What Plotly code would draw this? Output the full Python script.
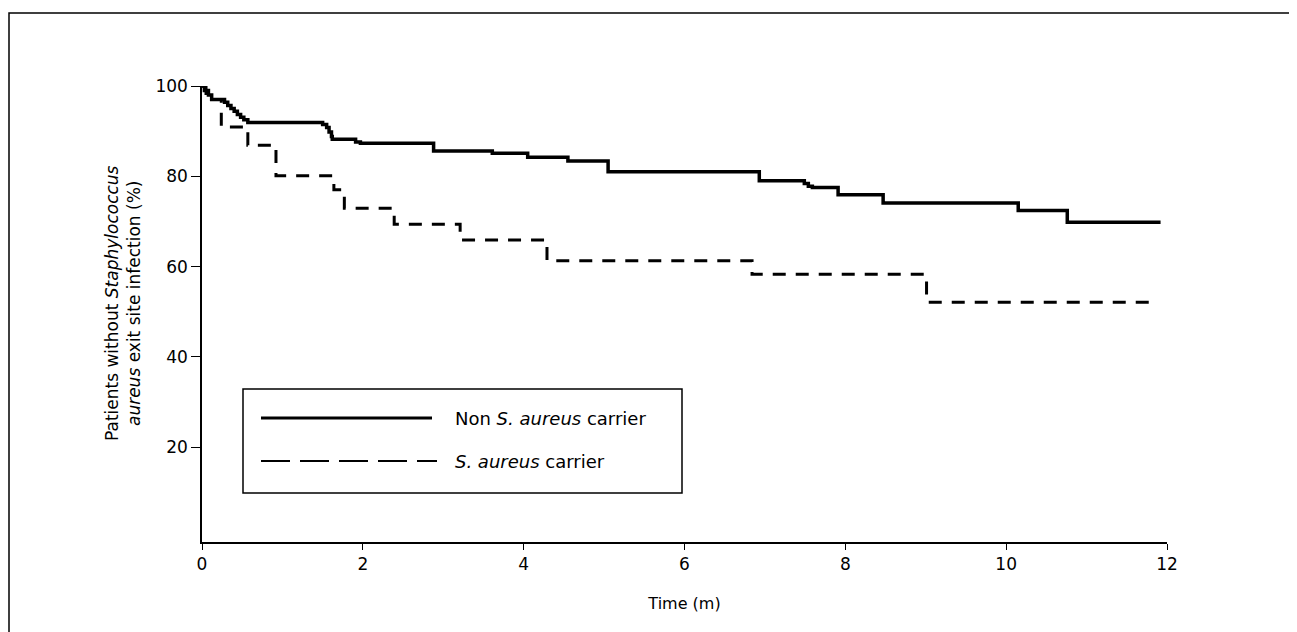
import plotly.graph_objects as go

# ---- data (Kaplan-Meier style step curves) ----
non_carrier_t = [0, 0.03, 0.08, 0.12, 0.28, 0.32, 0.36, 0.40, 0.44, 0.48, 0.52, 0.57,
                 1.50, 1.55, 1.58, 1.61, 1.62, 1.91, 1.97, 2.88, 3.61, 4.05, 4.55,
                 5.05, 6.93, 7.49, 7.54, 7.59, 7.91, 8.47, 10.15, 10.76, 11.92]
non_carrier_s = [100, 99, 98, 97, 96.4, 95.7, 95.0, 94.4, 93.7, 93.1, 92.5, 91.9,
                 91.5, 90.8, 89.8, 88.8, 88.2, 87.6, 87.3, 85.6, 85.1, 84.2, 83.4,
                 81.0, 79.0, 78.4, 77.8, 77.5, 75.9, 74.1, 72.4, 69.8, 69.8]

carrier_t = [0, 0.05, 0.24, 0.57, 0.92, 1.64, 1.77, 2.39, 3.21, 4.29, 6.84, 9.01, 11.87]
carrier_s = [100, 97, 90.9, 86.9, 80.1, 77.0, 72.9, 69.4, 65.9, 61.3, 58.3, 52.1, 52.1]

x_ticks = [0, 2, 4, 6, 8, 10, 12]
y_ticks = [20, 40, 60, 80, 100]

legend_labels = ["Non <i>S. aureus</i> carrier", "<i>S. aureus</i> carrier"]

# ---- layout geometry (pixels); page body has an 8px margin ----
OFF = 8
W, H = 1289, 624
ML, MR, MT, MB = 194, 130, 78, 90
PW, PH = W - ML - MR, H - MT - MB

def px(x):
    return (x - OFF - ML) / PW

def py(y):
    return (H - MB - (y - OFF)) / PH

FONT = "DejaVu Sans, Liberation Sans, Arial, sans-serif"

fig = go.Figure()
fig.add_trace(go.Scatter(x=non_carrier_t, y=non_carrier_s, mode="lines",
                         line=dict(color="black", width=3.5, shape="hv"),
                         name="Non S. aureus carrier", showlegend=False))
fig.add_trace(go.Scatter(x=carrier_t, y=carrier_s, mode="lines",
                         line=dict(color="black", width=3, shape="hv", dash="13px,10px"),
                         name="S. aureus carrier", showlegend=False))

shapes = []
# outer frame (left, top, right)
shapes.append(dict(type="path", xref="paper", yref="paper",
                   path=f"M {px(9)},{py(700)} L {px(9)},{py(13)} L {px(1290)},{py(13)} L {px(1290)},{py(700)}",
                   line=dict(color="black", width=1.5)))
# legend box
shapes.append(dict(type="rect", xref="paper", yref="paper",
                   x0=px(243), x1=px(682), y0=py(493), y1=py(389),
                   line=dict(color="black", width=1.5), fillcolor="white"))
# legend samples
shapes.append(dict(type="line", xref="paper", yref="paper",
                   x0=px(261), x1=px(432), y0=py(418), y1=py(418),
                   line=dict(color="black", width=3)))
shapes.append(dict(type="line", xref="paper", yref="paper",
                   x0=px(261), x1=px(437), y0=py(461), y1=py(461),
                   line=dict(color="black", width=2, dash="29px,10px")))

annotations = [
    dict(text=legend_labels[0], xref="paper", yref="paper", x=px(453), y=py(418),
         xanchor="left", yanchor="middle", showarrow=False,
         font=dict(family=FONT, size=18, color="black")),
    dict(text=legend_labels[1], xref="paper", yref="paper", x=px(453), y=py(461),
         xanchor="left", yanchor="middle", showarrow=False,
         font=dict(family=FONT, size=18, color="black")),
    dict(text="Patients without <i>Staphylococcus</i><br><i>aureus</i> exit site infection (%)",
         xref="paper", yref="paper", x=px(123), y=py(303), textangle=-90,
         xanchor="center", yanchor="middle", showarrow=False,
         font=dict(family=FONT, size=17, color="black")),
]

fig.update_layout(
    width=W, height=H,
    margin=dict(l=ML, r=MR, t=MT, b=MB),
    paper_bgcolor="white", plot_bgcolor="white",
    font=dict(family=FONT, size=16, color="black"),
    shapes=shapes, annotations=annotations,
    xaxis=dict(range=[0, 12], tickvals=x_ticks, ticktext=[str(v) for v in x_ticks],
               showgrid=False, zeroline=False, showline=True, linecolor="black", linewidth=1.5,
               ticks="outside", ticklen=6, tickwidth=1.2, tickcolor="black",
               tickfont=dict(size=17), title=dict(text="Time (m)", font=dict(size=16), standoff=25)),
    yaxis=dict(range=[-1, 100], tickvals=y_ticks, ticktext=[str(v) for v in y_ticks],
               showgrid=False, zeroline=False, showline=True, linecolor="black", linewidth=1.5,
               ticks="outside", ticklen=9, tickwidth=1.2, tickcolor="black",
               tickfont=dict(size=17)),
)

fig.write_html("out.html")
